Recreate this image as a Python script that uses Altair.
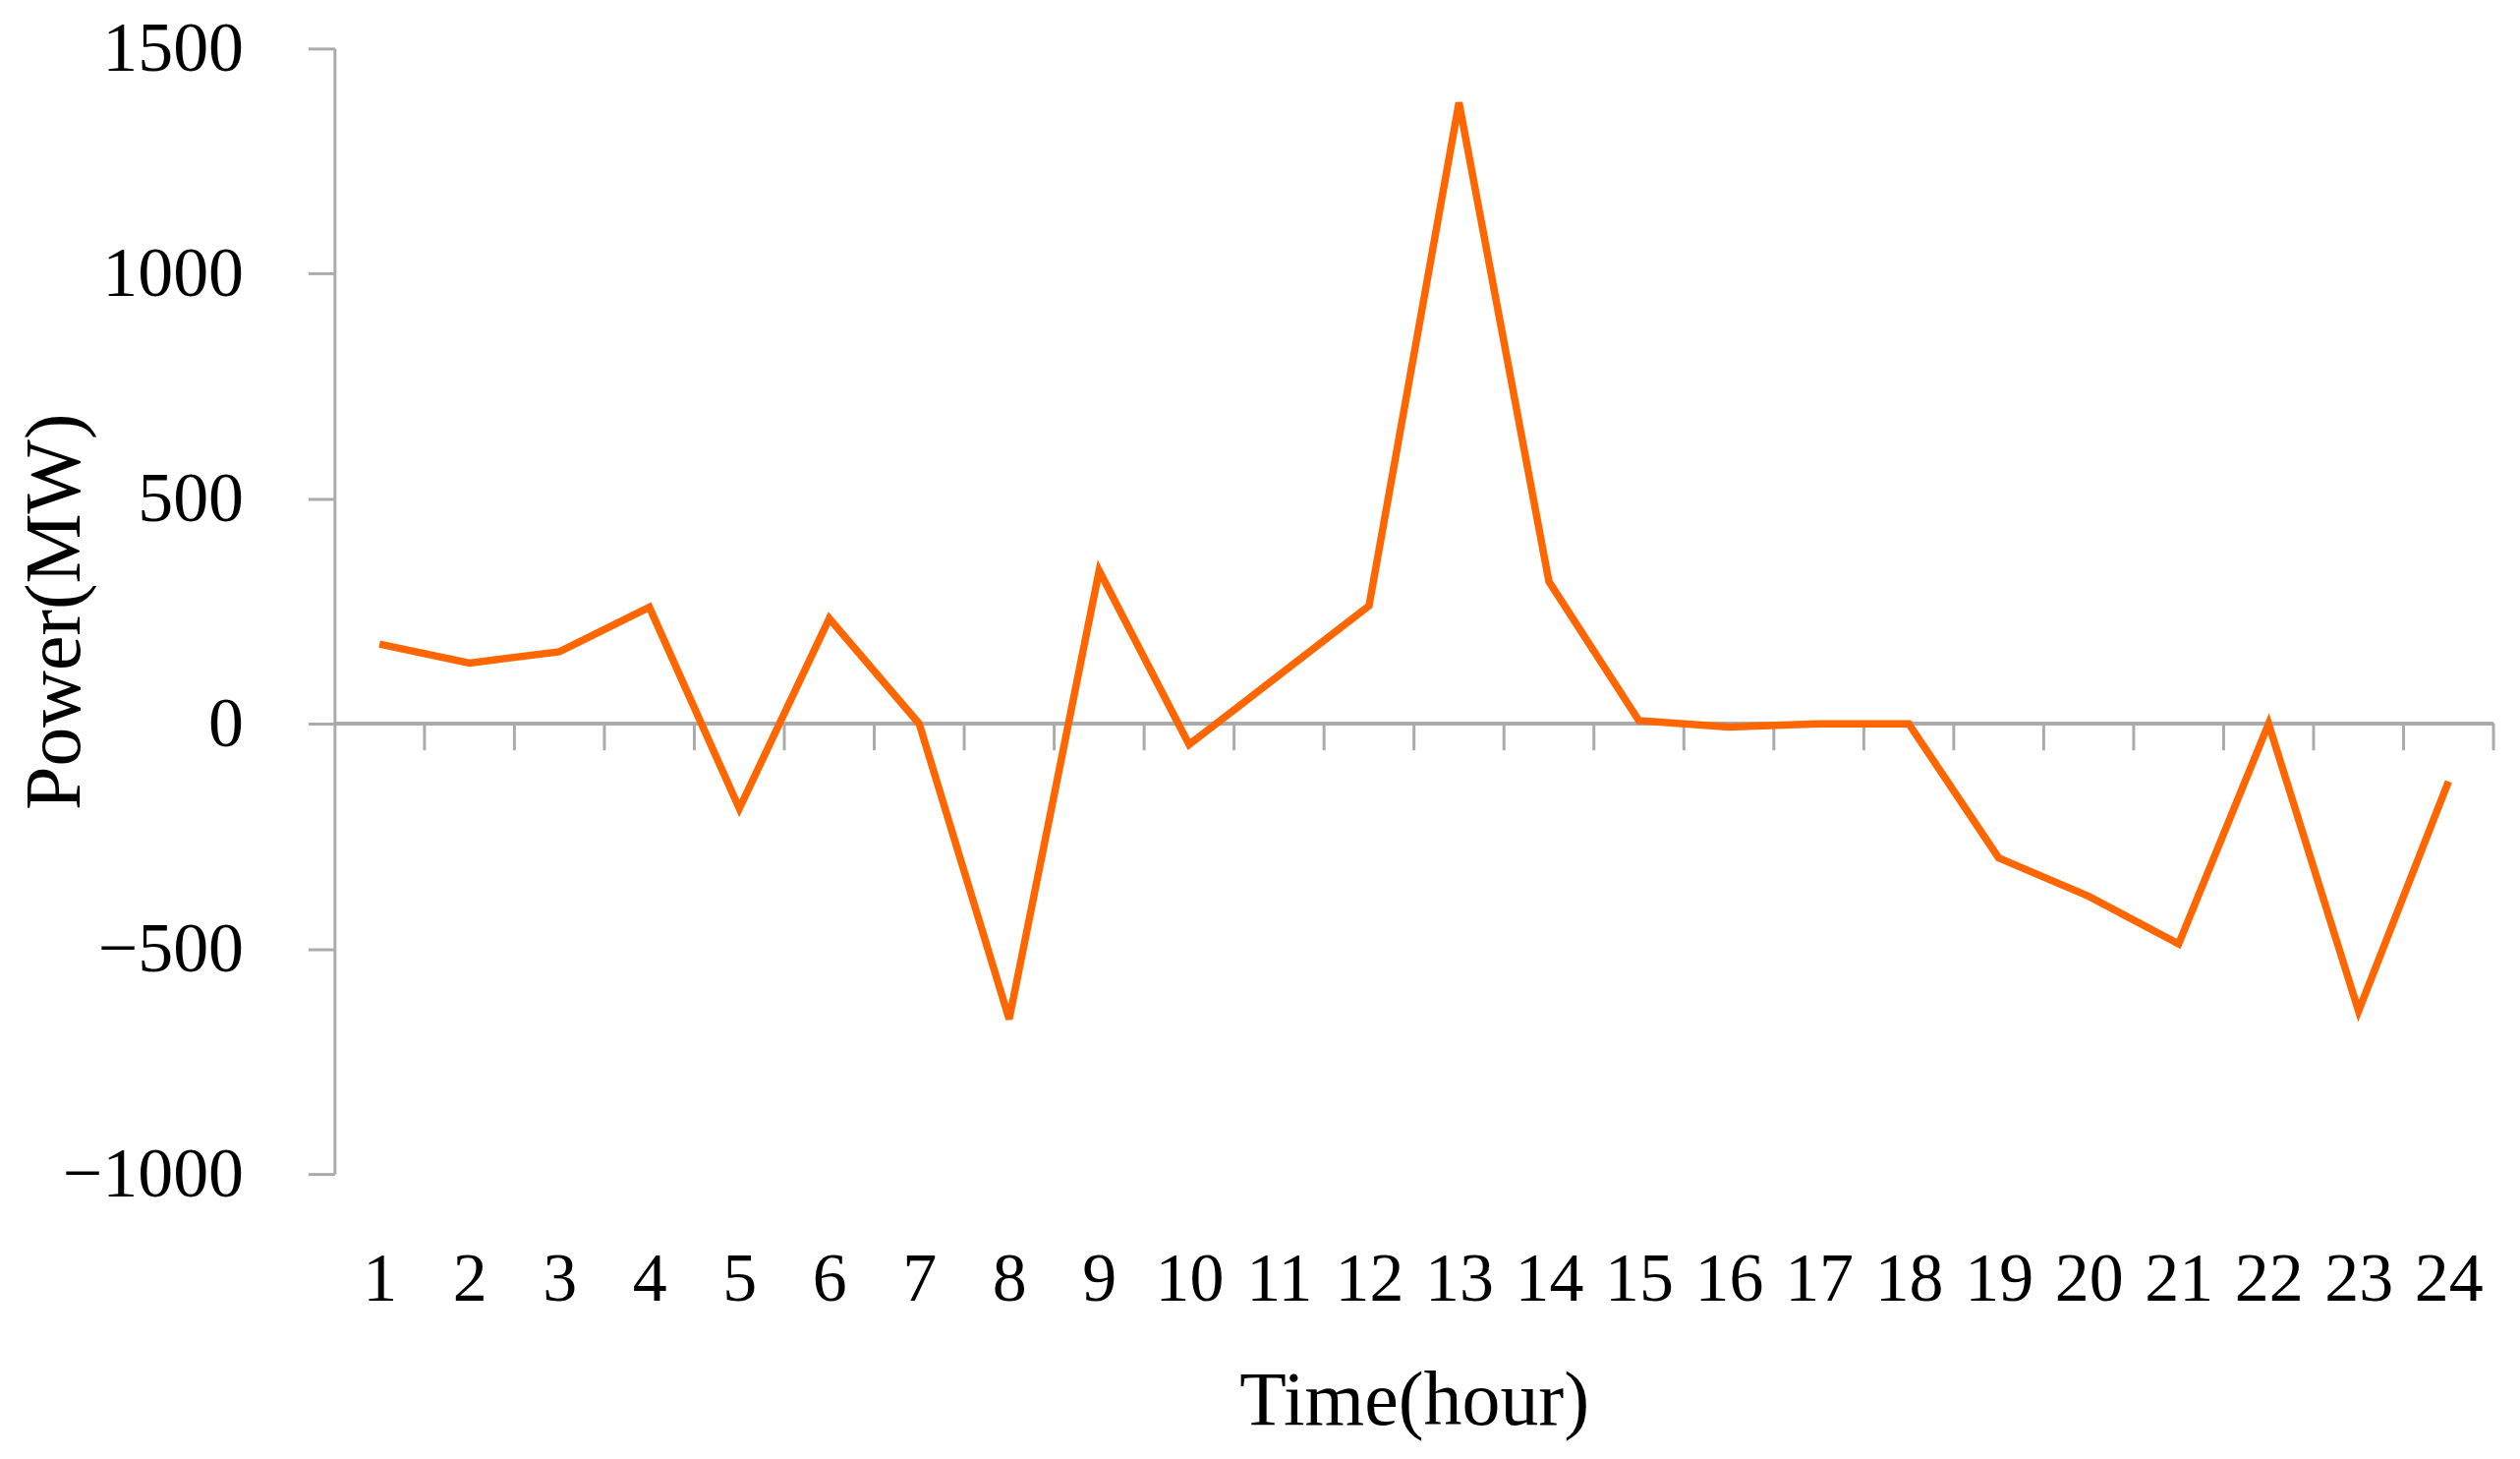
import altair as alt
import pandas as pd

hours = list(range(1, 25))
power = [177, 135, 160, 259, -188, 234, 0, -656, 340, -46, 108, 262,
         1380, 316, 7, -7, 0, 0, -298, -383, -489, 0, -638, -128]
y_ticks = [-1000, -500, 0, 500, 1000, 1500]

GREY = "#ABABAB"
FONT = "Liberation Serif"

df = pd.DataFrame({"hour": hours, "power": power})
bounds = pd.DataFrame({"b": [h + 0.5 for h in hours]})

x_scale = alt.Scale(domain=[0.5, 24.5], nice=False, zero=False)
y_scale = alt.Scale(domain=[-1000, 1500], nice=False)

line = alt.Chart(df).mark_line(color="#FF6600", strokeWidth=7.5, strokeJoin="miter").encode(
    x=alt.X("hour:Q", scale=x_scale,
            axis=alt.Axis(values=hours, format="d", title="Time(hour)", grid=False,
                          domain=False, ticks=False, tickSize=0, labelPadding=74,
                          labelFontSize=70, labelFont=FONT, labelColor="#000000",
                          labelFlush=False, labelLimit=300,
                          titleFont=FONT, titleFontSize=78, titleFontWeight="normal",
                          titleColor="#000000", titleY=232, titleBaseline="middle")),
    y=alt.Y("power:Q", scale=y_scale,
            axis=alt.Axis(values=y_ticks, format="d", title="Power(MW)", grid=False,
                          domainColor=GREY, domainWidth=3, tickColor=GREY, tickWidth=3,
                          tickSize=27, labelPadding=66, labelFontSize=72, labelFont=FONT,
                          labelColor="#000000", labelFlush=False, labelLimit=400,
                          titleFont=FONT, titleFontSize=80, titleFontWeight="normal",
                          titleColor="#000000", titleX=-284, titleBaseline="middle")),
)

zero_line = alt.Chart(df).mark_rule(color=GREY, strokeWidth=3).encode(
    x=alt.datum(0.5, scale=x_scale), x2=alt.datum(24.5), y=alt.datum(0, scale=y_scale)
)

ticks = alt.Chart(bounds).mark_rule(color=GREY, strokeWidth=3, y2Offset=27).encode(
    x=alt.X("b:Q", scale=x_scale), y=alt.datum(0, scale=y_scale), y2=alt.datum(0)
)

chart = alt.layer(zero_line, ticks, line).properties(
    width=2201, height=1147, background="white",
    padding={"left": 9, "top": 4, "right": 17, "bottom": 5}
).configure_view(stroke=None)

chart.save("out.html", embed_options={"renderer": "svg", "actions": False})
